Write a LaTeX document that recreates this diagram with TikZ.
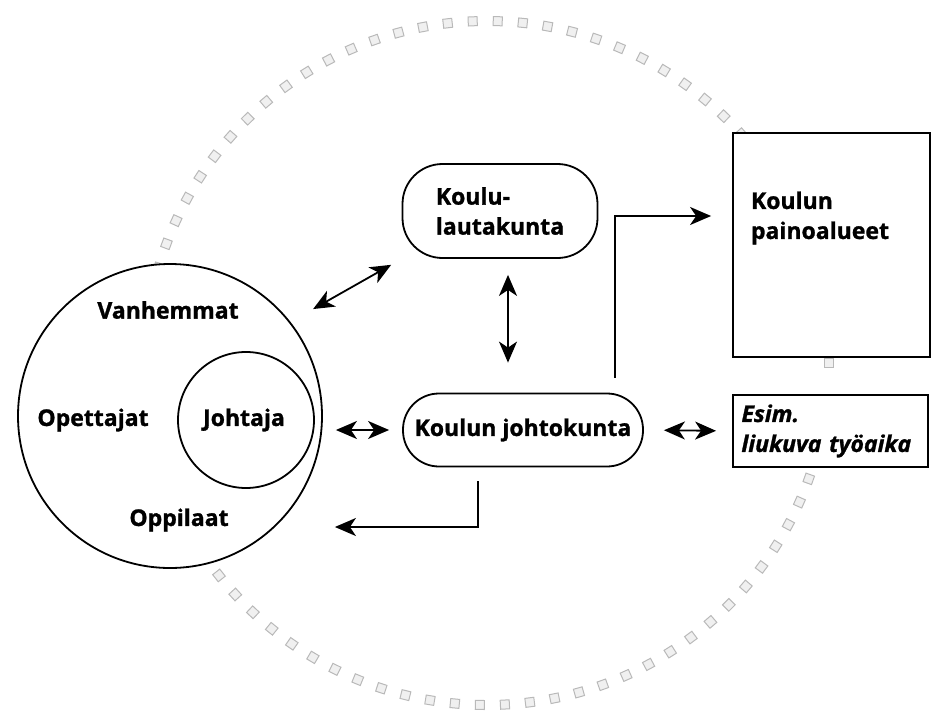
\documentclass[tikz,border=0pt]{standalone}
\usepackage{fontspec}
\setmainfont{Open Sans}[BoldFeatures={FakeBold=1.2},BoldItalicFeatures={FakeBold=1.2}]
\usetikzlibrary{arrows.meta}
\tikzset{
  lbl/.style={font=\fontsize{23}{30}\selectfont\bfseries, inner sep=0pt, align=left},
  ring/.style={draw, circle, line width=1.8pt, fill=white, inner sep=0pt},
  roundbox/.style={draw, line width=1.8pt, rounded corners=40pt, fill=white, font=\fontsize{23}{30}\selectfont\bfseries, align=left, inner sep=0pt},
  sqbox/.style={draw, line width=1.8pt, fill=white, font=\fontsize{23}{30}\selectfont\bfseries\itshape, align=left, inner sep=0pt},
  spk/.style={draw=gray!55, fill=gray!12, line width=1pt},
  arr/.style={-{Stealth[length=21pt,width=18pt,inset=6pt]}, line width=1.8pt},
  dbl/.style={{Stealth[length=21pt,width=18pt,inset=6pt]}-{Stealth[length=21pt,width=18pt,inset=6pt]}, line width=1.8pt}
}
\begin{document}
\begin{tikzpicture}[x=1pt,y=-1pt]
\useasboundingbox (0,0) rectangle (943,715);
\pgfmathsetmacro{\kr}{342}
\foreach \a in {0,4.2,...,356}
  \draw[spk, shift={(487,363)}, rotate=\a] (\kr-4.5,-4.5) rectangle (\kr+4.5,4.5);
\node[ring, minimum size=304pt] (big) at (170,416) {};
\node[ring, minimum size=136pt] (jo) at (246,420) {};
\node[lbl] (va) at (168,310) {Vanhemmat};
\node[lbl] (op) at (93,420) {Opettajat};
\node[lbl] (jt) at (244,420) {Johtaja};
\node[lbl] (ol) at (179,520) {Oppilaat};
\node[roundbox, minimum width=195pt, minimum height=94pt] (kl) at (500,211) {Koulu-\\lautakunta};
\node[roundbox, rounded corners=36pt, minimum width=240pt, minimum height=73pt] (jk) at (523,430) {Koulun johtokunta};
\node[sqbox, minimum width=197pt, minimum height=224pt] (pa) at (831.5,245) {};
\node[lbl] (pat) at (820,218) {Koulun\\painoalueet};
\node[sqbox, minimum width=195pt, minimum height=72pt, text width=178pt, inner xsep=6pt] (es) at (830.5,431) {Esim.\\liukuva työaika};
\coordinate (up) at (615,216);
\coordinate (dn) at (478,527);
\coordinate (mid) at (508,0);
\draw[dbl, shorten <=26pt, shorten >=12pt] (big.38) -- (kl.south west);
\draw[dbl, shorten <=16pt, shorten >=30pt] (kl.south -| mid) -- (jk.north -| mid);
\draw[dbl, shorten <=13pt, shorten >=13pt] (big.east |- jk.west) -- (jk.west);
\draw[dbl, shorten <=20pt, shorten >=16pt] (jk.east) -- (es.west);
\draw[arr, shorten <=15pt, shorten >=21pt] (jk.north -| up) |- (pa.west |- up);
\draw[arr, shorten <=14pt, shorten >=12pt] (jk.south -| dn) |- (big.east |- dn);
\end{tikzpicture}
\end{document}
